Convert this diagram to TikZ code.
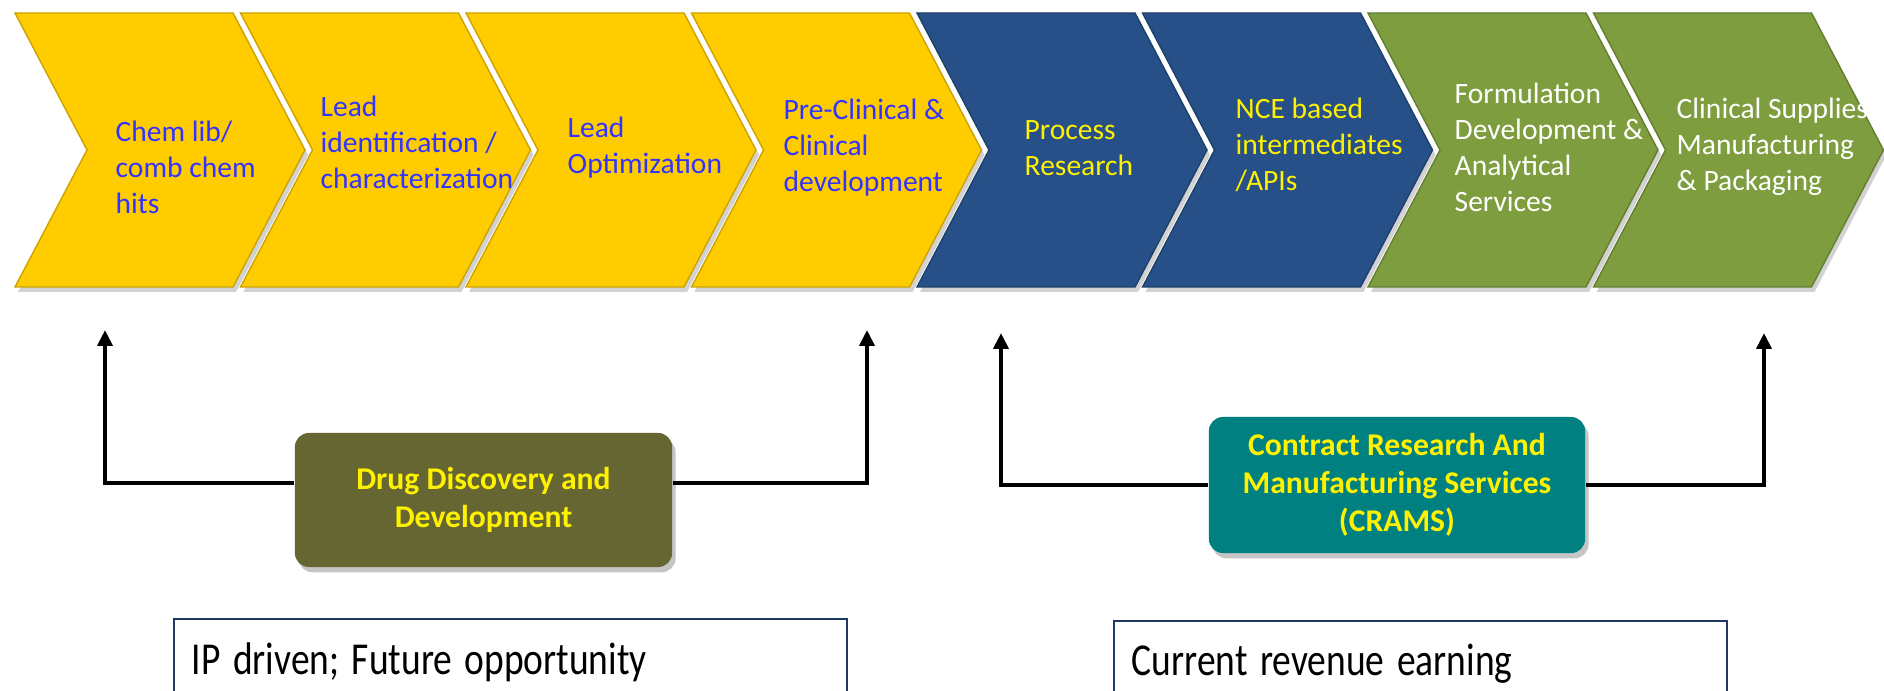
\documentclass[tikz,border=0pt]{standalone}
\usepackage{fontspec}
\setmainfont{Carlito}
\usepackage{graphicx}
\usetikzlibrary{arrows.meta,shadows}

\definecolor{chevyellow}{RGB}{255,204,0}
\definecolor{chevblue}{RGB}{38,80,135}
\definecolor{chevgreen}{RGB}{125,157,62}
\definecolor{txtblue}{RGB}{51,51,255}
\definecolor{drugolive}{RGB}{102,102,51}
\definecolor{cramsteal}{RGB}{0,128,128}
\definecolor{notenavy}{RGB}{31,56,100}

\newcommand{\squeezed}[1]{\scalebox{0.82}[1]{#1}}

\begin{document}
\begin{tikzpicture}
[x=0.01cm,y=-0.01cm
,chevtext/.style={anchor=west,align=left,inner sep=0pt,font=\fontsize{8.4}{10.24}\selectfont}
,grpbox/.style={rounded corners=4pt,align=center,text=yellow,inner sep=0pt
  ,font=\bfseries\fontsize{9}{10.8}\selectfont
  ,drop shadow={shadow xshift=1pt,shadow yshift=-1.5pt,opacity=0.45}}
,notebox/.style={draw=notenavy,line width=0.6pt,align=left,inner xsep=0.18cm
  ,font=\fontsize{13}{15}\selectfont}
,conn/.style={draw=black,line width=1.2pt,arrows={-Triangle[length=4.5pt,width=4.2pt]}}
]
\useasboundingbox (0,0) rectangle (1884,691);
\fill[white] (0,0) rectangle (1884,691);
\clip (0,0) rectangle (1884,691);

% value chain
\foreach \i/\col in {0/chevyellow,1/chevyellow,2/chevyellow,3/chevyellow,
                     4/chevblue,5/chevblue,6/chevgreen,7/chevgreen}{
  \pgfmathsetmacro{\xl}{15+225.5*\i}
  \fill[gray!35] (\xl+3,18) -- ++(218,0) -- ++(72,137) -- ++(-72,137)
    -- ++(-218,0) -- ++(72,-137) -- cycle;
  \fill[\col,draw=\col!80!black,line width=0.4pt] (\xl,13) -- ++(218,0)
    -- ++(72,137) -- ++(-72,137) -- ++(-218,0) -- ++(72,-137) -- cycle;
}
\node[chevtext,text=txtblue] (t1) at (115,167) {Chem lib/\\comb chem\\hits};
\node[chevtext,text=txtblue] (t2) at (320,142) {Lead\\identification /\\characterization};
\node[chevtext,text=txtblue] (t3) at (567,148) {Lead\\Optimization};
\node[chevtext,text=txtblue] (t4) at (783,148) {Pre-Clinical \&\\Clinical\\development};
\node[chevtext,text=yellow] (t5) at (1024,148) {Process\\Research};
\node[chevtext,text=yellow] (t6) at (1235,145) {NCE based\\intermediates\\/APIs};
\node[chevtext,text=white] (t7) at (1454,147) {Formulation\\Development \&\\Analytical\\Services};
\node[chevtext,text=white] (t8) at (1676,147) {Clinical Supplies\\Manufacturing\\\& Packaging};

% groups
\node[grpbox,fill=drugolive,minimum width=3.77cm,minimum height=1.34cm] (drug) at (483.5,500)
  {Drug Discovery and\\Development};
\node[grpbox,fill=cramsteal,minimum width=3.76cm,minimum height=1.36cm] (crams) at (1397,485)
  {Contract Research And\\Manufacturing Services\\(CRAMS)};
\coordinate (a1) at (105,330);
\coordinate (a2) at (867,330);
\coordinate (a3) at (1001,333);
\coordinate (a4) at (1764,333);
\draw[conn] ([yshift=0.17cm]drug.west) -| (a1);
\draw[conn] ([yshift=0.17cm]drug.east) -| (a2);
\draw[conn] (crams.west) -| (a3);
\draw[conn] (crams.east) -| (a4);

% notes
\node[notebox,text width=6.37cm,minimum height=0.86cm] (ip) at (510.5,662)
  {\squeezed{IP driven; Future opportunity}};
\node[notebox,text width=5.77cm,minimum height=0.86cm] (rev) at (1420.5,664)
  {\squeezed{Current revenue earning}};
\end{tikzpicture}
\end{document}
